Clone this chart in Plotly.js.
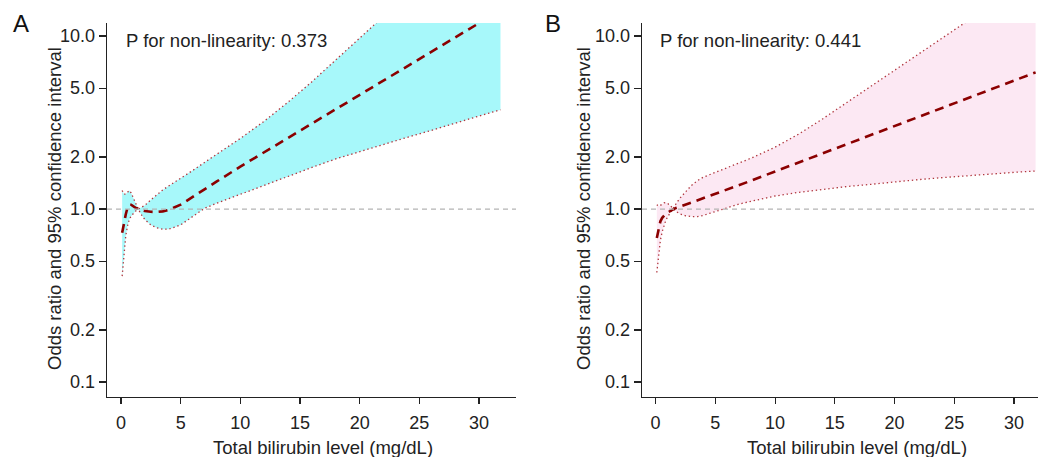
<!DOCTYPE html>
<html>
<head>
<meta charset="utf-8">
<script src="https://cdn.plot.ly/plotly-3.0.1.min.js"></script>
<style>html,body{margin:0;padding:0;background:#fff;}#chart{width:1038px;height:457px;}</style>
</head>
<body>
<div id="chart"></div>
<script>
// ---- Data ----
const bilirubin = [0.1, 0.25, 0.4, 0.55, 0.7, 0.85, 1.0, 1.2, 1.45, 1.7, 2.0, 2.5, 3.0, 3.5, 4.0, 5.0, 6.0, 7.0, 8.0, 10, 12, 14, 16, 18, 20, 22, 24, 26, 28, 30, 31.8];

// Panel A
const orA      = [0.73, 0.84, 0.93, 1.02, 1.06, 1.06, 1.04, 1.02, 1.00, 0.985, 0.975, 0.965, 0.962, 0.97, 0.99, 1.06, 1.17, 1.30, 1.44, 1.76, 2.13, 2.58, 3.12, 3.78, 4.57, 5.53, 6.70, 8.11, 9.82, 11.9, 14.1];
const ciA1     = [1.28, 1.22, 1.22, 1.26, 1.28, 1.24, 1.17, 1.08, 1.00, 0.93, 0.87, 0.81, 0.78, 0.765, 0.765, 0.81, 0.91, 1.01, 1.08, 1.22, 1.37, 1.55, 1.74, 1.95, 2.15, 2.36, 2.60, 2.85, 3.15, 3.45, 3.75];
const ciA2     = [0.41, 0.55, 0.70, 0.80, 0.87, 0.91, 0.94, 0.97, 1.00, 1.02, 1.05, 1.13, 1.21, 1.29, 1.36, 1.50, 1.67, 1.86, 2.07, 2.56, 3.22, 4.15, 5.45, 7.30, 9.90, 13.3, 17.8, 23.8, 31.5, 41.5, 52.0];

// Panel B
const orB      = [0.68, 0.77, 0.85, 0.89, 0.92, 0.94, 0.955, 0.975, 1.00, 1.015, 1.03, 1.06, 1.09, 1.12, 1.15, 1.23, 1.30, 1.38, 1.46, 1.65, 1.86, 2.10, 2.37, 2.68, 3.02, 3.41, 3.85, 4.34, 4.90, 5.53, 6.17];
const ciB1     = [1.06, 1.04, 1.05, 1.07, 1.085, 1.09, 1.08, 1.05, 1.01, 0.97, 0.94, 0.915, 0.905, 0.905, 0.92, 0.97, 1.025, 1.07, 1.11, 1.19, 1.25, 1.30, 1.35, 1.39, 1.44, 1.48, 1.52, 1.56, 1.60, 1.63, 1.66];
const ciB2     = [0.43, 0.56, 0.66, 0.74, 0.81, 0.86, 0.90, 0.95, 1.01, 1.07, 1.15, 1.26, 1.37, 1.46, 1.53, 1.63, 1.74, 1.85, 1.97, 2.28, 2.72, 3.33, 4.12, 5.10, 6.33, 7.85, 9.75, 12.1, 14.9, 18.5, 22.4];

const xTickVals = [0, 5, 10, 15, 20, 25, 30];
const yTickVals = [0.1, 0.2, 0.5, 1, 2, 5, 10];
const yTickText = ['0.1', '0.2', '0.5', '1.0', '2.0', '5.0', '10.0'];
const pLabels = ['P for non-linearity: 0.373', 'P for non-linearity: 0.441'];
const panelLetters = ['A', 'B'];
const xTitle = 'Total bilirubin level (mg/dL)';
const yTitle = 'Odds ratio and 95% confidence interval';

// ---- Styles ----
const W = 1038, H = 457;
const ciLine = {color: '#b0353d', width: 1.3, dash: '1.4px,2.8px'};
const estLine = {color: '#8b0000', width: 2.6, dash: '9px,6px'};
const fills = ['#a7f8fa', '#fce8f3'];

function panel(xa, ya, ci1, ci2, est, fillc) {
  return [
    {x: bilirubin, y: ci1, xaxis: xa, yaxis: ya, type: 'scatter', mode: 'lines', line: ciLine, hoverinfo: 'skip'},
    {x: bilirubin, y: ci2, xaxis: xa, yaxis: ya, type: 'scatter', mode: 'lines', line: ciLine, fill: 'tonexty', fillcolor: fillc, hoverinfo: 'skip'},
    {x: bilirubin, y: est, xaxis: xa, yaxis: ya, type: 'scatter', mode: 'lines', line: estLine, hoverinfo: 'skip'}
  ];
}

const data = [].concat(
  panel('x', 'y', ciA1, ciA2, orA, fills[0]),
  panel('x2', 'y2', ciB1, ciB2, orB, fills[1])
);

const yDom = [(H - 397) / H, (H - 23) / H];
function xax(dom, range, yref) {
  return {domain: dom, range: range, anchor: yref, tickvals: xTickVals, ticks: 'outside', ticklen: 6, tickwidth: 1.2,
    tickcolor: '#222', showline: true, linecolor: '#222', linewidth: 1.3, showgrid: false, zeroline: false,
    ticklabelstandoff: 3,
    tickfont: {size: 18, color: '#222'}, fixedrange: true};
}
function yax(dom, xref) {
  return {domain: dom, type: 'log', range: [Math.log10(0.082), Math.log10(11.9)], anchor: xref,
    tickvals: yTickVals, ticktext: yTickText, ticks: 'outside', ticklen: 7, tickwidth: 1.2, tickcolor: '#222',
    showline: true, linecolor: '#222', linewidth: 1.3, showgrid: false, zeroline: false,
    tickfont: {size: 18, color: '#222'}, fixedrange: true};
}

const font = 'Liberation Sans, Arial, Helvetica, sans-serif';
const ann = [];
const px = (v) => v / W, py = (v) => (H - v) / H;
const panelPos = [
  {letter: [21, 23], p: [124, 40], xt: [323, 447], yt: [54, 209]},
  {letter: [553, 24], p: [658, 40], xt: [857, 447], yt: [583, 209]}
];
panelPos.forEach((pp, i) => {
  ann.push({text: panelLetters[i], xref: 'paper', yref: 'paper', x: px(pp.letter[0]), y: py(pp.letter[1]), xanchor: 'center', yanchor: 'middle', showarrow: false, font: {size: 24, color: '#111', family: font}});
  ann.push({text: pLabels[i], xref: 'paper', yref: 'paper', x: px(pp.p[0]), y: py(pp.p[1]), xanchor: 'left', yanchor: 'middle', showarrow: false, font: {size: 18.5, color: '#222', family: font}});
  ann.push({text: xTitle, xref: 'paper', yref: 'paper', x: px(pp.xt[0]), y: py(pp.xt[1]), xanchor: 'center', yanchor: 'middle', showarrow: false, font: {size: 18.5, color: '#222', family: font}});
  ann.push({text: yTitle, xref: 'paper', yref: 'paper', x: px(pp.yt[0]), y: py(pp.yt[1]), xanchor: 'center', yanchor: 'middle', textangle: -90, showarrow: false, font: {size: 18.5, color: '#222', family: font}});
});

const shapes = [
  {type: 'line', xref: 'x domain', yref: 'y', x0: 0, x1: 1, y0: 1, y1: 1, line: {color: '#b4b4b4', width: 1.2, dash: '5px,4px'}, layer: 'above'},
  {type: 'line', xref: 'x2 domain', yref: 'y2', x0: 0, x1: 1, y0: 1, y1: 1, line: {color: '#b4b4b4', width: 1.2, dash: '5px,4px'}, layer: 'above'}
];

const layout = {
  width: W, height: H, margin: {l: 0, r: 0, t: 0, b: 0}, showlegend: false,
  paper_bgcolor: '#fff', plot_bgcolor: '#fff',
  font: {family: font, size: 18, color: '#222'},
  xaxis: xax([107 / W, 516 / W], [-1.17, 33.1], 'y'),
  yaxis: yax(yDom, 'x'),
  xaxis2: xax([642 / W, 1], [-1.14, 32.0], 'y2'),
  yaxis2: yax(yDom, 'x2'),
  annotations: ann, shapes: shapes, hovermode: false
};

Plotly.newPlot('chart', data, layout, {staticPlot: true, displayModeBar: false});
</script>
</body>
</html>
